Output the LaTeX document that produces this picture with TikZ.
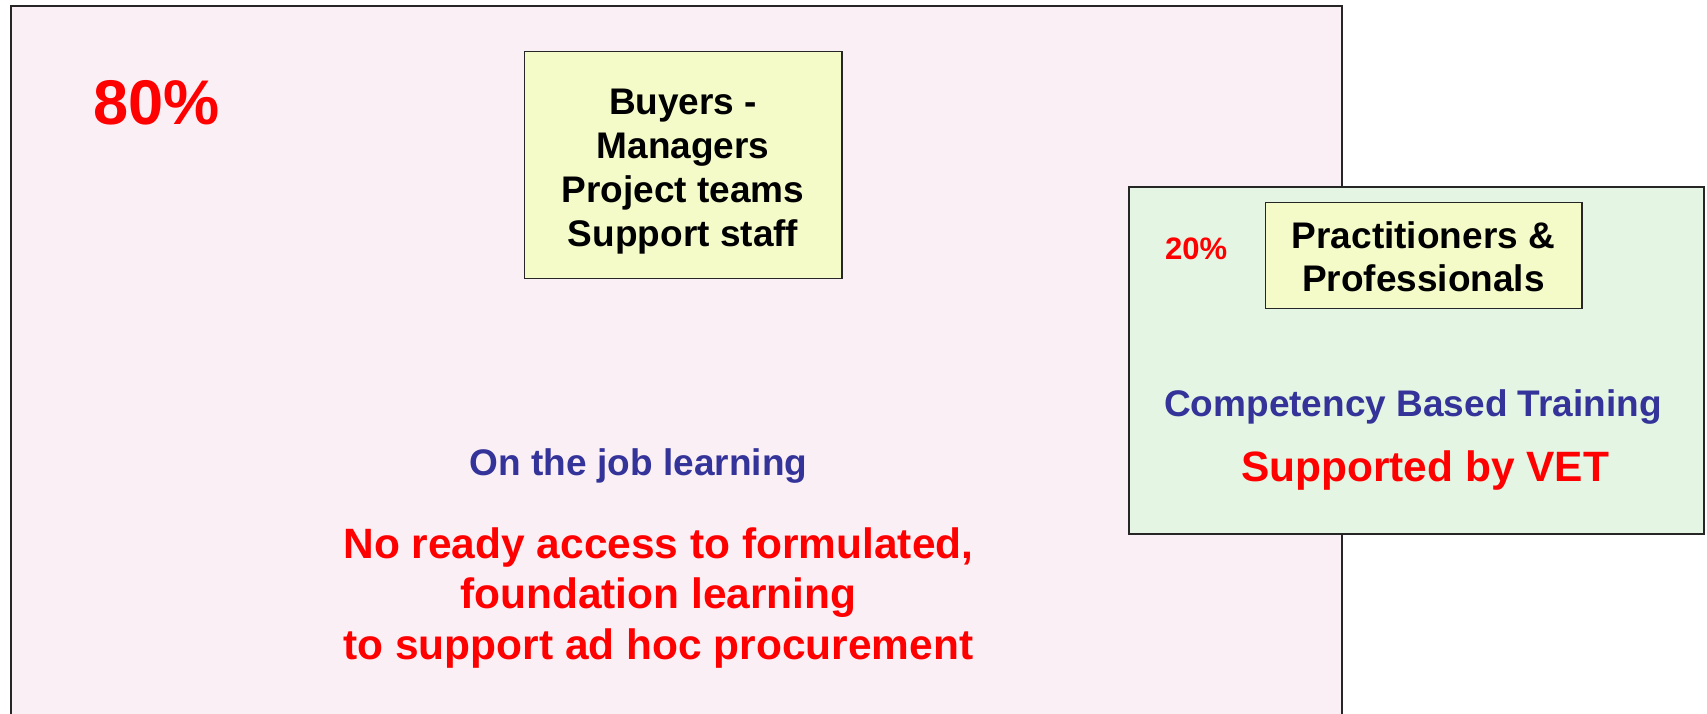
\documentclass[tikz,border=0pt]{standalone}
\usepackage{fontspec}
\setmainfont{Liberation Sans}
\definecolor{pinkbg}{HTML}{FAEFF5}
\definecolor{greenbg}{HTML}{E5F5E3}
\definecolor{yellowbg}{HTML}{F4FBC9}
\definecolor{bluetxt}{HTML}{333399}
\definecolor{redtxt}{HTML}{FF0000}
\tikzset{
  panel/.style={draw=black!85, line width=1.7pt},
  labelbox/.style={draw=black!85, line width=1.4pt, fill=yellowbg},
  boxtxt/.style={font=\fontsize{34}{40.5}\selectfont\bfseries, align=center, text=black, inner sep=0pt},
  bluetext/.style={font=\fontsize{34}{40}\selectfont\bfseries, text=bluetxt, align=center, inner sep=0pt, anchor=base},
  redtext/.style={font=\fontsize{39}{46}\selectfont\bfseries, text=redtxt, align=center, inner sep=0pt},
}
\begin{document}
\begin{tikzpicture}[x=1pt,y=1pt]
\useasboundingbox (0,0) rectangle (1568,-655.8);
\clip (0,0) rectangle (1568,-655.8);
\fill[white] (0,0) rectangle (1568,-655.8);
% big pink panel
\draw[panel, fill=pinkbg] (9.8,-5.5) rectangle (1232.4,-680);
\node[font=\fontsize{58}{64}\selectfont\bfseries, text=redtxt, inner sep=0pt, anchor=base] (p80) at (144,-114) {80\%};
% buyers box
\draw[labelbox] (481.6,-47.5) rectangle (773.5,-256);
\node[boxtxt] (buyers) at (627.5,-157.5) {Buyers -\\Managers\\Project teams\\Support staff};
\node[bluetext] (job) at (586.6,-436.8) {On the job learning};
\node[redtext] (noaccess) at (604.8,-549.3) {No ready access to formulated,\\foundation learning\\to support ad hoc procurement};
% green panel
\draw[panel, fill=greenbg] (1037,-172) rectangle (1565,-490.5);
\node[font=\fontsize{28.5}{32}\selectfont\bfseries, text=redtxt, inner sep=0pt, anchor=base] (p20) at (1098.7,-238.2) {20\%};
\draw[labelbox] (1162.5,-186.2) rectangle (1453,-283.2);
\node[boxtxt, font=\fontsize{34}{39.2}\selectfont\bfseries] (pract) at (1307.5,-236) {Practitioners \&\\Professionals};
\node[bluetext] (cbt) at (1298,-382.5) {Competency Based Training};
\node[bluetext, font=\fontsize{39}{46}\selectfont\bfseries, text=redtxt] (vet) at (1309,-442.4) {Supported by VET};
\end{tikzpicture}
\end{document}
